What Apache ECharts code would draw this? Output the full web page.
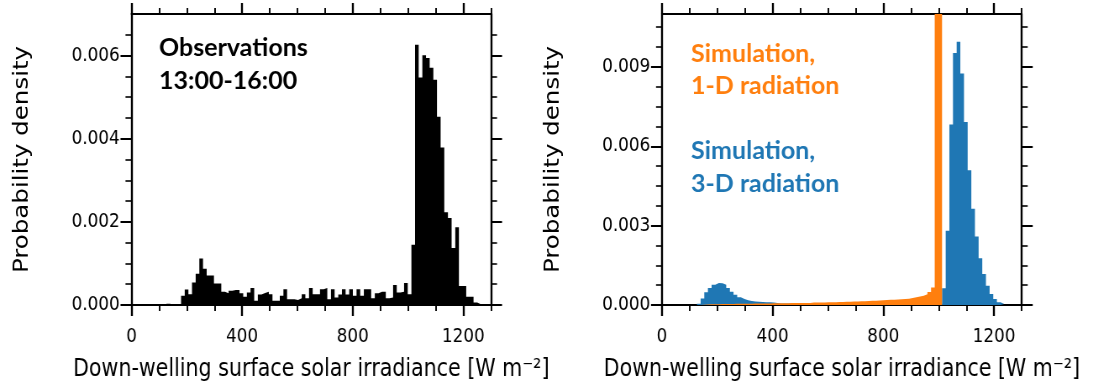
<!DOCTYPE html>
<html><head><meta charset="utf-8">
<script src="https://cdn.jsdelivr.net/npm/echarts@6/dist/echarts.min.js"></script>
<style>
html,body{margin:0;padding:0;overflow:hidden;background:#fff;width:1093px;height:392px}
#wrap{width:1093px;height:392px;overflow:hidden;position:relative}
#chart{width:1301px;height:392px;transform:scaleX(0.84013);transform-origin:0 0;position:absolute;left:0;top:0}
</style></head><body><div id="wrap"><div id="chart"></div></div>
<script>
// Histogram bins (W m-2)
const binStart = 126.3;
const binWidth = 13.22;

// Observations 13:00-16:00 (probability density per bin)
const obsValues = [
0.00003,0,0,0,
0.00022,0.00037,0.00026,0.00054,0.00075,0.00112,0.00087,0.00071,0.00071,0.00052,
0.00052,0.00032,0.00028,0.00034,0.00036,0.00036,0.00028,0.00020,0.00030,0.00041,
0.00010,0.00025,0.00029,0.00032,0.00026,0.00010,0.00010,0.00022,0.00038,0.00014,
0.00014,0.00012,0.00016,0.00026,0.00016,0.00041,0.00026,0.00026,0.00038,0.00041,
0.00014,0.00038,0.00018,0.00025,0.00038,0.00025,0.00038,0.00022,0.00038,0.00022,
0.00038,0.00038,0.00016,0.00028,0.00032,0.00032,0.00016,0.00018,0.00048,0.00030,
0.00032,0.00053,0.00026,0.00145,0.00626,0.00547,0.00601,0.00594,0.00571,0.00542,
0.00453,0.00379,0.00223,0.00209,0.00137,0.00187,0.00046,0.00046,0.00020,0.00020,
0.00006,0.00002
];

// Simulation, 3-D radiation
const sim3dValues = [
0.00005,0.00025,0.00048,0.00064,0.00077,0.00083,0.00082,0.00077,0.00064,0.00050,
0.00039,0.00029,0.00023,0.00018,0.00015,0.00013,0.00012,0.00011,0.00010,0.00010,
0.00009,0.00008,
0.00006,0.00006,0.00006,0.00006,0.00006,0.00006,0.00006,0.00006,0.00006,0.00006,
0.00006,0.00006,0.00006,0.00006,0.00006,0.00006,0.00006,0.00006,0.00006,
0.00005,0.00005,0.00005,0.00005,0.00005,0.00005,0.00005,0.00005,0.00005,0.00005,
0.00005,0.00005,0.00005,0.00005,0.00005,0.00005,0.00005,0.00005,0.00005,0.00005,
0.00005,0.00005,0.00005,0.00005,0.00005,0.00005,
0.00063,0.00281,0.00682,0.00953,0.00995,0.00875,0.00692,0.00509,0.00364,0.00259,
0.00177,0.00117,0.00073,0.00042,0.00023,0.00010,0.00004
];

// Simulation, 1-D radiation
const sim1dValues = [
0,0.00001,0.00002,0.00003,0.00003,0.00003,0.00004,0.00004,0.00004,0.00004,
0.00005,0.00005,0.00005,0.00005,0.00005,0.00006,0.00006,0.00006,0.00006,0.00006,
0.00007,0.00007,0.00007,0.00007,0.00007,0.00008,0.00008,0.00008,0.00008,0.00008,
0.00008,0.00009,0.00009,0.00009,0.00009,0.00010,0.00010,0.00010,0.00011,0.00011,
0.00012,0.00012,0.00013,0.00013,0.00014,0.00014,0.00015,0.00016,0.00016,0.00017,
0.00018,0.00019,0.00020,0.00020,0.00021,0.00022,0.00023,0.00024,0.00026,0.00029,
0.00032,0.00035,0.00041,0.00049,0.00066,0.0125,0.0125
];

// Axis ticks
const xMax = 1300;
const xMajorTicks = [0,400,800,1200];
const xMinorTicks = [100,200,300,500,600,700,900,1000,1100,1300];
const yLeftMax = 0.007;
const yLeftMajorTicks = [0,0.002,0.004,0.006];
const yLeftMinorTicks = [0.0005,0.001,0.0015,0.0025,0.003,0.0035,0.0045,0.005,0.0055,0.0065];
const yRightMax = 0.011;
const yRightMajorTicks = [0,0.003,0.006,0.009];
const yRightMinorTicks = [0.00075,0.0015,0.00225,0.00375,0.0045,0.00525,0.00675,0.0075,0.00825,0.00975,0.0105];

const xName = 'Down-welling surface solar irradiance [W m\u207B\u00B2]';
const yName = 'Probability density';

const S = 0.84013;            // horizontal squeeze of the picture
const inv = 1 / S;
const FONT = 'DejaVu Sans';

function stepData(vals) {
  const d = vals.map((v, i) => [binStart + i * binWidth, v]);
  d.push([binStart + vals.length * binWidth, 0]);
  return d;
}

const grids = [
  {left: 131.5 * inv, top: 14, width: 359.5 * inv, height: 291},
  {left: 662 * inv, top: 14, width: 359.7 * inv, height: 291}
];

const xAxes = [], yAxes = [];
function addAxes(g, yMax, yMajor, yMinor) {
  const vw = 2 * inv;
  const base = {type: 'value', gridIndex: g, min: 0, max: xMax, splitLine: {show: false}};
  const noLine = {show: false, onZero: false};
  const line = (w) => ({show: true, onZero: false, lineStyle: {color: '#000', width: w}});
  xAxes.push(Object.assign({}, base, {
    position: 'bottom',
    axisLine: line(2),
    axisTick: {show: true, inside: false, length: 11, customValues: xMajorTicks, lineStyle: {color: '#000', width: vw}},
    axisLabel: {show: true, customValues: xMajorTicks, margin: 22, color: '#000', fontSize: 20, fontFamily: FONT,
      formatter: v => String(Math.round(v))},
    name: xName, nameLocation: 'middle', nameGap: 52,
    nameTextStyle: {color: '#000', fontSize: 24.5, fontFamily: FONT}
  }));
  xAxes.push(Object.assign({}, base, {
    position: 'bottom', axisLine: noLine,
    axisTick: {show: true, inside: false, length: 6, customValues: xMinorTicks, lineStyle: {color: '#000', width: vw * 0.8}},
    axisLabel: {show: false}
  }));
  xAxes.push(Object.assign({}, base, {
    position: 'top',
    axisLine: line(2),
    axisTick: {show: true, inside: false, length: 11, customValues: xMajorTicks, lineStyle: {color: '#000', width: vw}},
    axisLabel: {show: false}
  }));
  xAxes.push(Object.assign({}, base, {
    position: 'top', axisLine: noLine,
    axisTick: {show: true, inside: false, length: 6, customValues: xMinorTicks, lineStyle: {color: '#000', width: vw * 0.8}},
    axisLabel: {show: false}
  }));
  const ybase = {type: 'value', gridIndex: g, min: 0, max: yMax, splitLine: {show: false}};
  yAxes.push(Object.assign({}, ybase, {
    position: 'left',
    axisLine: line(vw),
    axisTick: {show: true, inside: false, length: 11 * inv, customValues: yMajor, lineStyle: {color: '#000', width: 2}},
    axisLabel: {show: true, customValues: yMajor, margin: 14, color: '#000', fontSize: 20, fontFamily: FONT,
      formatter: v => Number(v).toFixed(3)},
    name: yName, nameLocation: 'middle', nameGap: 117, nameRotate: 90,
    nameTextStyle: {color: '#000', fontSize: 24.5, fontFamily: FONT}
  }));
  yAxes.push(Object.assign({}, ybase, {
    position: 'left', axisLine: noLine,
    axisTick: {show: true, inside: false, length: 6 * inv, customValues: yMinor, lineStyle: {color: '#000', width: 1.6}},
    axisLabel: {show: false}
  }));
  yAxes.push(Object.assign({}, ybase, {
    position: 'right',
    axisLine: line(vw),
    axisTick: {show: true, inside: false, length: 11 * inv, customValues: yMajor, lineStyle: {color: '#000', width: 2}},
    axisLabel: {show: false}
  }));
  yAxes.push(Object.assign({}, ybase, {
    position: 'right', axisLine: noLine,
    axisTick: {show: true, inside: false, length: 6 * inv, customValues: yMinor, lineStyle: {color: '#000', width: 1.6}},
    axisLabel: {show: false}
  }));
}
addAxes(0, yLeftMax, yLeftMajorTicks, yLeftMinorTicks);
addAxes(1, yRightMax, yRightMajorTicks, yRightMinorTicks);

function histSeries(name, vals, color, xi, yi) {
  return {
    name: name, type: 'line', step: 'end', xAxisIndex: xi, yAxisIndex: yi,
    data: stepData(vals), symbol: 'none', showSymbol: false, silent: true,
    lineStyle: {width: 0, color: color}, itemStyle: {color: color},
    areaStyle: {color: color, opacity: 1}, animation: false
  };
}

function label(text, xOrig, y, color) {
  return {
    type: 'text', x: xOrig * inv, y: y, scaleX: inv, scaleY: 1, z: 100,
    style: {text: text, fill: color, font: 'bold 25px Lato', align: 'left', verticalAlign: 'middle'}
  };
}

const chart = echarts.init(document.getElementById('chart'), null, {renderer: 'canvas'});
chart.setOption({
  animation: false,
  backgroundColor: '#fff',
  grid: grids,
  xAxis: xAxes,
  yAxis: yAxes,
  series: [
    histSeries('Observations', obsValues, '#000000', 0, 0),
    histSeries('Simulation, 3-D radiation', sim3dValues, '#1f77b4', 4, 4),
    histSeries('Simulation, 1-D radiation', sim1dValues, '#ff7f0e', 4, 4)
  ],
  graphic: [
    label('Observations', 159, 48, '#000'),
    label('13:00-16:00', 159, 81, '#000'),
    label('Simulation,', 691, 54, '#ff7f0e'),
    label('1-D radiation', 691, 86, '#ff7f0e'),
    label('Simulation,', 691, 151, '#1f77b4'),
    label('3-D radiation', 691, 184, '#1f77b4')
  ]
});
</script></body></html>
